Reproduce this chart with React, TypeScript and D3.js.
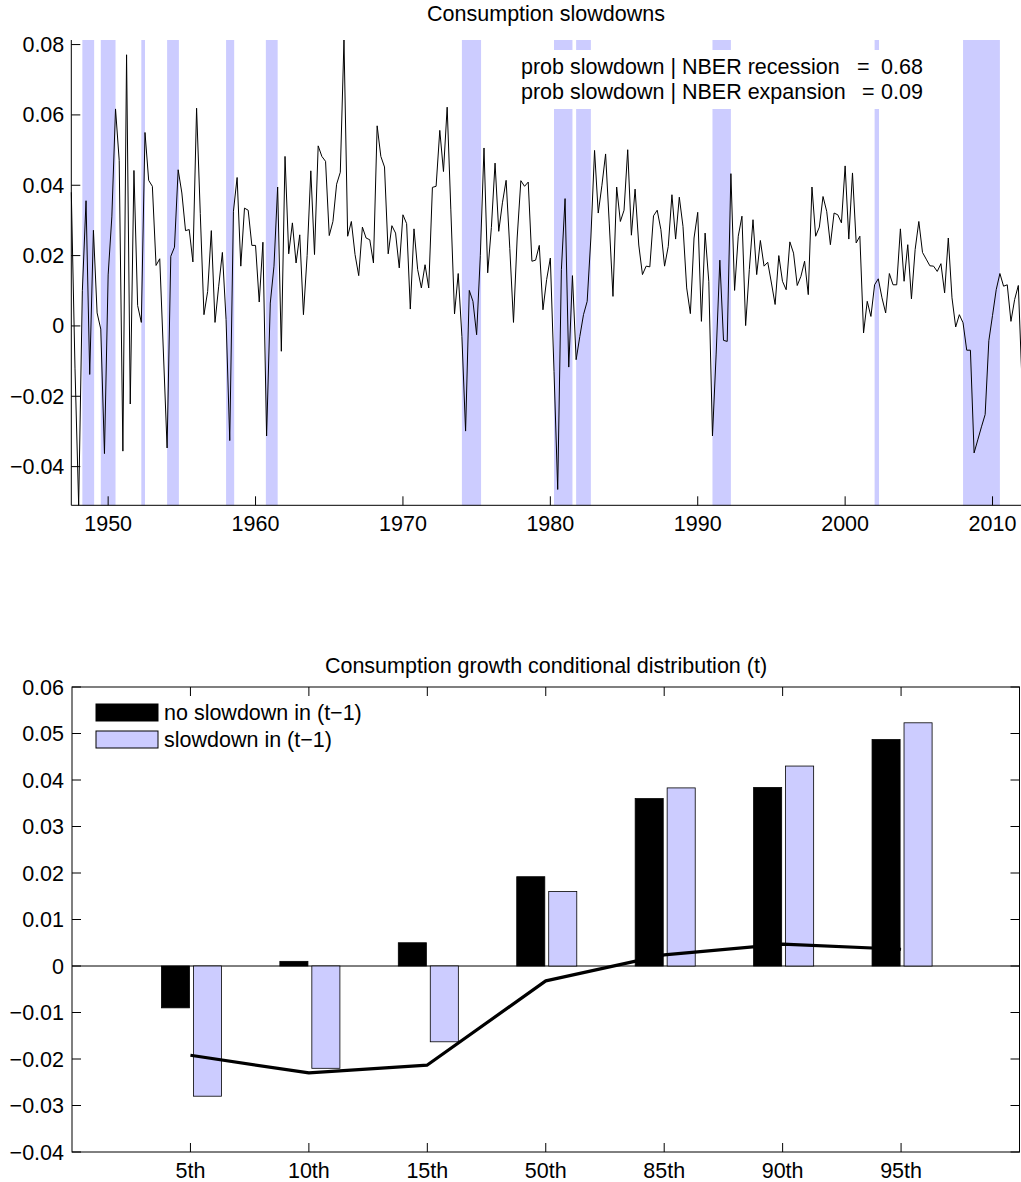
import React from "react";
import * as d3 from "d3";

// ---------- Top chart data ----------
const START_YEAR = 1947.5; // first quarter shown
const QUARTER = 0.25;
const growth: number[] = [
  0.038, -0.012, -0.051, 0.010, 0.0356, -0.0138, 0.0272, 0.0037, -0.0009, -0.0363,
  0.0145, 0.031, 0.0617, 0.0471, -0.0356, 0.0771, -0.0222, 0.0442, 0.0058, 0.001,
  0.055, 0.0414, 0.0397, 0.0172, 0.0191, -0.0077, -0.0347, 0.0198, 0.0224, 0.0444,
  0.0378, 0.0271, 0.0274, 0.0182, 0.0619, 0.032, 0.0032, 0.0098, 0.0271, 0.001,
  0.0113, 0.0209, 0.0018, -0.0326, 0.0326, 0.0422, 0.017, 0.0335, 0.0329, 0.0229,
  0.0229, 0.0068, 0.0238, -0.0313, 0.0065, 0.017, 0.0395, -0.0072, 0.0482, 0.0205,
  0.0293, 0.0179, 0.0259, 0.0032, 0.02, 0.0441, 0.0203, 0.0512, 0.0482, 0.0468,
  0.0257, 0.0297, 0.0403, 0.0437, 0.0813, 0.0255, 0.0297, 0.0203, 0.0143, 0.0281,
  0.025, 0.0245, 0.0179, 0.0569, 0.0482, 0.0452, 0.0205, 0.0285, 0.0264, 0.0165,
  0.0316, 0.0291, 0.0048, 0.0276, 0.016, 0.0108, 0.0174, 0.0108, 0.0394, 0.0397,
  0.0556, 0.0439, 0.0622, 0.033, 0.0034, 0.0149, -0.003, -0.0299, 0.0101, 0.007,
  -0.0025, 0.02, 0.0506, 0.0151, 0.028, 0.0463, 0.0269, 0.035, 0.0414, 0.022,
  0.001, 0.025, 0.0413, 0.0397, 0.0409, 0.0184, 0.0187, 0.0229, 0.0046, 0.0132,
  0.0193, -0.013, -0.0465, 0.016, 0.0362, -0.0117, 0.0143, -0.0096, -0.003, 0.0032,
  0.007, 0.025, 0.0499, 0.0321, 0.04, 0.0489, 0.029, 0.0084, 0.0395, 0.0297,
  0.0329, 0.0501, 0.0258, 0.0389, 0.023, 0.0146, 0.017, 0.0168, 0.0313, 0.0329,
  0.0274, 0.017, 0.0226, 0.0373, 0.0247, 0.0366, 0.0283, 0.0108, 0.0035, 0.025,
  0.0323, 0.0013, 0.0264, 0.0127, -0.0313, -0.008, 0.0187, -0.0041, -0.0044, 0.0433,
  0.0101, 0.0255, 0.0312, 0.0001, 0.016, 0.0302, 0.0146, 0.0243, 0.017, 0.0181,
  0.0122, 0.0061, 0.02, 0.0127, 0.0103, 0.0239, 0.0207, 0.0115, 0.0141, 0.0184,
  0.0089, 0.0395, 0.0255, 0.0281, 0.0368, 0.0326, 0.0231, 0.0321, 0.0316, 0.0293,
  0.0455, 0.0247, 0.0435, 0.0236, 0.0255, -0.002, 0.007, 0.0027, 0.0117, 0.0134,
  0.008, 0.0037, 0.0149, 0.0117, 0.0117, 0.0276, 0.0127, 0.0231, 0.0077, 0.0217,
  0.0297, 0.0209, 0.019, 0.0171, 0.017, 0.0155, 0.0177, 0.0094, 0.025, 0.008,
  -0.0003, 0.0032, 0.0009, -0.0069, -0.0069, -0.0361, -0.0324, -0.0287, -0.0252, -0.0042,
  0.003, 0.0103, 0.0149, 0.0113, 0.0117, 0.0013, 0.0075, 0.0115, -0.016,
];
const recessionStarts: number[] = [1948.25, 1949.5, 1952.25, 1954.0, 1958.0, 1960.7, 1974.0, 1980.25, 1981.75, 1991.0, 2002.0, 2008.0];
const recessionEnds: number[] = [1949.05, 1950.5, 1952.5, 1954.8, 1958.55, 1961.5, 1975.3, 1981.5, 1982.75, 1992.25, 2002.3, 2010.5];
const topYTicks: number[] = [-0.04, -0.02, 0, 0.02, 0.04, 0.06, 0.08];
const topXTicks: number[] = [1950, 1960, 1970, 1980, 1990, 2000, 2010];
const topTitle = "Consumption slowdowns";
const annotLabels: string[] = ["prob slowdown | NBER recession", "prob slowdown | NBER expansion"];
const annotValues: string[] = ["0.68", "0.09"];

// ---------- Bottom chart data ----------
const percentiles: string[] = ["5th", "10th", "15th", "50th", "85th", "90th", "95th"];
const noSlowdown: number[] = [-0.009, 0.001, 0.005, 0.0192, 0.036, 0.0384, 0.0487];
const slowdown: number[] = [-0.028, -0.022, -0.0163, 0.016, 0.0383, 0.043, 0.0523];
const difference: number[] = [-0.0192, -0.023, -0.0213, -0.0032, 0.0024, 0.0047, 0.0036];
const bottomYTicks: number[] = [-0.04, -0.03, -0.02, -0.01, 0, 0.01, 0.02, 0.03, 0.04, 0.05, 0.06];
const bottomTitle = "Consumption growth conditional distribution (t)";
const legendLabels: string[] = ["no slowdown in (t\u22121)", "slowdown in (t\u22121)"];

const FONT = "'Liberation Sans', Arial, Helvetica, sans-serif";
const FS = 21.5;
const BLUE = "#CCCCFF";

const fmt = (v: number) => {
  if (Math.abs(v) < 1e-12) return "0";
  const s = Math.abs(v).toFixed(2);
  return (v < 0 ? "\u2212" : "") + s;
};

function TopChart() {
  const L = 71.3, R = 1022, T = 40, B = 505.3;
  const x = d3.scaleLinear().domain([START_YEAR, START_YEAR + QUARTER * (growth.length - 1)]).range([L, R]);
  const y = d3.scaleLinear().domain([-0.051, 0.0813]).range([B, T]);
  const pts: [number, number][] = growth.map((v, i) => [START_YEAR + QUARTER * i, v]);
  const line = d3.line<[number, number]>().x((d) => x(d[0])).y((d) => y(d[1]));
  const tick = 9;
  const eqX = [857, 862];
  return (
    <g>
      <text x={546} y={21} textAnchor="middle" fontSize={FS} fontFamily={FONT}>{topTitle}</text>
      {recessionStarts.map((s, i) => (
        <rect key={i} x={x(s)} y={T} width={x(recessionEnds[i]) - x(s)} height={B - T} fill={BLUE} />
      ))}
      <rect x={514} y={50} width={416} height={59} fill="#fff" />
      <path d={line(pts) || ""} fill="none" stroke="#000" strokeWidth={1} strokeLinejoin="miter" />
      {annotLabels.map((t, i) => (
        <g key={i} fontSize={FS} fontFamily={FONT}>
          <text x={521} y={74 + i * 24.7}>{t}</text>
          <text x={eqX[i]} y={74 + i * 24.7}>=</text>
          <text x={881} y={74 + i * 24.7}>{annotValues[i]}</text>
        </g>
      ))}
      <line x1={L} y1={T} x2={L} y2={B} stroke="#000" strokeWidth={1} />
      <line x1={L} y1={B} x2={R} y2={B} stroke="#000" strokeWidth={1} />
      {topYTicks.map((v) => (
        <g key={v}>
          <line x1={L} x2={L + tick} y1={y(v)} y2={y(v)} stroke="#000" />
          <text x={L - 7} y={y(v)} dy="0.35em" textAnchor="end" fontSize={FS} fontFamily={FONT}>{fmt(v)}</text>
        </g>
      ))}
      {topXTicks.map((v) => (
        <g key={v}>
          <line x1={x(v)} x2={x(v)} y1={B} y2={B - tick} stroke="#000" />
          <text x={x(v)} y={B + 25.5} textAnchor="middle" fontSize={FS} fontFamily={FONT}>{v}</text>
        </g>
      ))}
    </g>
  );
}

function BottomChart() {
  const L = 72, R = 1019.5, T = 687, B = 1152;
  const x = d3.scaleLinear().domain([0, percentiles.length + 1]).range([L, R]);
  const y = d3.scaleLinear().domain([-0.04, 0.06]).range([B, T]);
  const tick = 9;
  const line = d3.line<number>().x((_, i) => x(i + 1)).y((d) => y(d));
  return (
    <g>
      <text x={546} y={673} textAnchor="middle" fontSize={FS} fontFamily={FONT}>{bottomTitle}</text>
      <line x1={L} x2={R} y1={y(0)} y2={y(0)} stroke="#000" strokeWidth={1} />
      {noSlowdown.map((v, i) => {
        const x0 = x(i + 1 - 0.245), x1 = x(i + 1 - 0.008);
        return <rect key={"a" + i} x={x0} y={Math.min(y(v), y(0))} width={x1 - x0} height={Math.abs(y(v) - y(0))} fill="#000" stroke="#000" strokeWidth={0.8} />;
      })}
      {slowdown.map((v, i) => {
        const x0 = x(i + 1 + 0.025), x1 = x(i + 1 + 0.262);
        return <rect key={"b" + i} x={x0} y={Math.min(y(v), y(0))} width={x1 - x0} height={Math.abs(y(v) - y(0))} fill={BLUE} stroke="#000" strokeWidth={0.8} />;
      })}
      <path d={line(difference) || ""} fill="none" stroke="#000" strokeWidth={3.2} strokeLinejoin="round" />
      <rect x={L} y={T} width={R - L} height={B - T} fill="none" stroke="#000" strokeWidth={1} />
      {bottomYTicks.map((v) => (
        <g key={v}>
          <line x1={L} x2={L + tick} y1={y(v)} y2={y(v)} stroke="#000" />
          <line x1={R} x2={R - tick} y1={y(v)} y2={y(v)} stroke="#000" />
          <text x={L - 8} y={y(v)} dy="0.35em" textAnchor="end" fontSize={FS} fontFamily={FONT}>{fmt(v)}</text>
        </g>
      ))}
      {percentiles.map((p, i) => (
        <g key={p}>
          <line x1={x(i + 1)} x2={x(i + 1)} y1={B} y2={B - tick} stroke="#000" />
          <line x1={x(i + 1)} x2={x(i + 1)} y1={T} y2={T + tick} stroke="#000" />
          <text x={x(i + 1)} y={B + 26} textAnchor="middle" fontSize={FS} fontFamily={FONT}>{p}</text>
        </g>
      ))}
      <rect x={96} y={704} width={62} height={17} fill="#000" stroke="#000" />
      <rect x={96} y={731} width={62} height={17} fill={BLUE} stroke="#000" />
      {legendLabels.map((t, i) => (
        <text key={t} x={164} y={720 + i * 27} fontSize={FS} fontFamily={FONT}>{t}</text>
      ))}
    </g>
  );
}

export default function App() {
  return (
    <svg width={1021} height={1182} style={{ position: "absolute", left: 0, top: 0, background: "#fff" }}>
      <rect x={0} y={0} width={1021} height={1182} fill="#fff" />
      <TopChart />
      <BottomChart />
    </svg>
  );
}
